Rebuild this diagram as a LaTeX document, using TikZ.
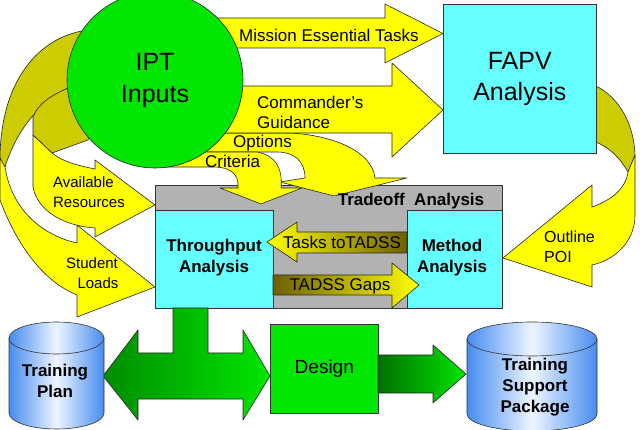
\documentclass[tikz,border=0pt]{standalone}
\usepackage{fontspec}
\setmainfont{Liberation Sans}
\definecolor{yel}{RGB}{255,255,0}
\definecolor{oli}{RGB}{204,204,0}
\definecolor{cy}{RGB}{102,255,255}
\definecolor{grn}{RGB}{0,230,0}
\definecolor{gry}{RGB}{178,178,178}
\definecolor{dkol}{RGB}{110,96,0}
\definecolor{dkgrn}{RGB}{0,140,0}
\definecolor{cylblue}{RGB}{70,140,240}
\definecolor{cyllight}{RGB}{238,245,255}
\begin{document}
\begin{tikzpicture}[x=1pt,y=-1pt,
  edge/.style={draw=black!85,line width=0.6pt,line join=round},
  yarrow/.style={edge,fill=yel},
  oarrow/.style={edge,fill=oli},
  box/.style={draw=black!80,line width=0.6pt,inner sep=0pt},
  txt/.style={inner sep=0pt,font=\fontsize{17}{20}\selectfont,align=left},
  btxt/.style={inner sep=0pt,font=\fontsize{17}{21}\selectfont\bfseries,align=center},
  stxt/.style={inner sep=0pt,font=\fontsize{15}{20}\selectfont,align=left},
  cyl/.style={draw=black!80,line width=0.6pt,left color=cylblue,right color=cylblue,middle color=cyllight}]
\useasboundingbox (0,0) rectangle (640,430);

% Tradeoff frame and analysis boxes
\node[box,fill=gry,minimum width=347pt,minimum height=123pt,anchor=north west] (trade) at (155,185) {};
\node[box,fill=cy,minimum width=118pt,minimum height=98pt,anchor=north west] (thru) at (155,210) {};
\node[btxt] (thrut) at (214,258) {Throughput\\Analysis};
\node[box,fill=cy,minimum width=95pt,minimum height=98pt,anchor=north west] (meth) at (407,210) {};
\node[btxt] (metht) at (452,258) {Method\\Analysis};

% TADSS arrows
\path[edge,left color=yel,right color=dkol] (407,232) -- (297,232) -- (297,222) -- (267,242) -- (297,262) -- (297,253) -- (407,253) -- cycle;
\node[txt] (tasks) at (342,242) {Tasks toTADSS};
\path[edge,left color=dkol,right color=yel] (273,275) -- (392,275) -- (392,263) -- (419,285) -- (392,308) -- (392,295) -- (273,295) -- cycle;
\node[txt] (gaps) at (340,286) {TADSS Gaps};

% Student Loads ribbon
\path[oarrow] (100,40) -- (82,31) .. controls (35,40) and (0,85) .. (0,160) -- (5,167) .. controls (15,135) and (35,105) .. (68,88) -- cycle;
\path[yarrow] (0,158) -- (0,200) .. controls (15,240) and (40,280) .. (77,295) -- (77,317) -- (155,287) -- (77,225) -- (77,243) .. controls (45,236) and (12,212) .. (5,167) -- cycle;
% Available Resources ribbon
\path[oarrow] (100,110) -- (68,88) .. controls (50,96) and (38,104) .. (33,117) -- (33,135) -- (52,153) -- (88,140) -- cycle;
\path[yarrow] (33,135) -- (33,187) .. controls (38,212) and (65,226) .. (95,228) -- (95,237) -- (155,205) -- (95,160) -- (95,169) .. controls (75,165) and (62,161) .. (52,153) -- cycle;
\node[stxt] (avail) at (89,192) {Available\\Resources};
\node[stxt,align=center] (stud) at (92,273) {Student\\\hspace*{0.8em}Loads};

% Outline POI ribbon
\path[oarrow] (590,86) -- (596,86) .. controls (620,98) and (634,125) .. (635,155) -- (628,172) .. controls (620,158) and (610,148) .. (596,142) -- (590,142) -- cycle;
\path[yarrow] (635,155) -- (635,217) .. controls (634,242) and (615,260) .. (592,265) -- (592,287) -- (503,258) -- (592,185) -- (592,207) .. controls (612,200) and (626,188) .. (628,172) -- cycle;
\node[stxt,font=\fontsize{16}{20}\selectfont,anchor=west] (poi) at (544,247) {Outline\\POI};

% Options and Criteria
\path[yarrow] (200,133) -- (290,133) .. controls (330,135) and (372,150) .. (375,178) -- (407,178) -- (334,196) -- (280,182) -- (305,178) .. controls (305,162) and (295,152) .. (277,152) -- (200,152) -- cycle;
\path[yarrow] (160,152) -- (257,152) .. controls (275,155) and (283,168) .. (281,188) -- (302,188) -- (261,204) -- (220,188) -- (238,188) .. controls (239,175) and (232,167) .. (213,167) -- (160,167) -- cycle;
\node[txt,anchor=west] (opt) at (233,143) {Options};
\node[txt,anchor=west] (crit) at (205,161) {Criteria};
\node[btxt,anchor=center] (tradet) at (411,201) {Tradeoff\hspace{0.55em}Analysis};

% Commander's Guidance and Mission Essential Tasks
\path[yarrow] (200,86) -- (392,86) -- (392,63) -- (443,110) -- (392,157) -- (392,133) -- (200,133) -- cycle;
\node[txt,anchor=west] (cmd) at (257,112) {Commander's\\Guidance};
\path[yarrow] (200,18) -- (385,18) -- (385,4) -- (443,33.5) -- (385,63) -- (385,48) -- (200,48) -- cycle;
\node[txt,anchor=west] (met) at (239,35) {Mission Essential Tasks};

% IPT Inputs and FAPV
\node[circle,draw=black!85,line width=0.6pt,fill=grn,minimum size=176pt,inner sep=0pt,
      font=\fontsize{25}{32}\selectfont,align=center] (ipt) at (155,80) {IPT\\Inputs};
\node[box,fill=cy,minimum width=153pt,minimum height=149pt,anchor=north west,
      font=\fontsize{25}{31}\selectfont,align=center] (fapv) at (443,4) {FAPV\\Analysis};

% Bottom: green T arrow, Design, arrow, cylinders
\path[edge,left color=dkgrn,right color=grn] (173,308) -- (208,308) -- (208,353) -- (243,353) -- (243,330) -- (270,376) -- (243,420) -- (243,399) -- (138,399) -- (138,420) -- (103,376) -- (138,330) -- (138,353) -- (173,353) -- cycle;
\node[box,fill=grn,minimum width=108pt,minimum height=89pt,anchor=north west,
      font=\fontsize{19}{22}\selectfont] (design) at (270,324) {Design};
\path[edge,left color=dkgrn!80!black,right color=grn] (378,355) -- (433,355) -- (433,345) -- (466,374) -- (433,403) -- (433,393) -- (378,393) -- cycle;

\path[cyl] (9,338) -- (9,413) arc[start angle=180,end angle=0,x radius=47.5,y radius=16] -- (104,338) -- cycle;
\path[cyl] (56.5,338) ellipse[x radius=47.5,y radius=16];
\node[btxt] (tplan) at (55,381) {Training\\Plan};

\path[cyl] (467,339) -- (467,414) arc[start angle=180,end angle=0,x radius=65,y radius=17] -- (597,339) -- cycle;
\path[cyl] (532,339) ellipse[x radius=65,y radius=17];
\node[btxt] (tsp) at (535,387) {Training\\Support\\Package};
\end{tikzpicture}
\end{document}
